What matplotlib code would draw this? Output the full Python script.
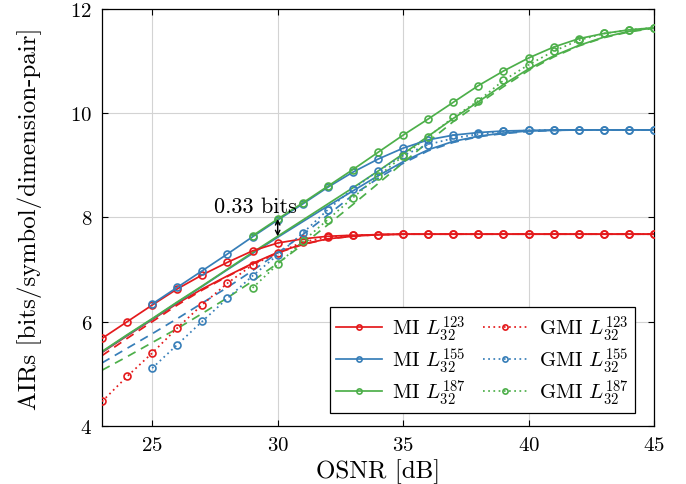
import matplotlib
matplotlib.use("Agg")
import matplotlib.pyplot as plt
import numpy as np

plt.rcParams['font.family'] = ['cmr10', 'DejaVu Serif']
plt.rcParams['mathtext.fontset'] = 'cm'
plt.rcParams['axes.formatter.use_mathtext'] = True

# ---------------- data ----------------
osnr_all = list(range(23, 46))

mi_red_x = list(range(23, 46))
mi_red = [5.68, 6.00, 6.32, 6.63, 6.90, 7.14, 7.36, 7.51, 7.59, 7.64, 7.66, 7.67,
          7.68, 7.68, 7.68, 7.68, 7.68, 7.68, 7.68, 7.68, 7.68, 7.68, 7.68]
gmi_red = [4.47, 4.95, 5.40, 5.88, 6.33, 6.74, 7.09, 7.32, 7.53, 7.62, 7.66, 7.67,
           7.68, 7.68, 7.68, 7.68, 7.68, 7.68, 7.68, 7.68, 7.68, 7.68, 7.68]

mi_blue_x = list(range(25, 46))
mi_blue = [6.34, 6.66, 6.98, 7.30, 7.63, 7.95, 8.26, 8.58, 8.87, 9.12, 9.33, 9.49,
           9.58, 9.63, 9.66, 9.67, 9.68, 9.68, 9.68, 9.68, 9.68]
gmi_blue = [5.11, 5.56, 6.01, 6.45, 6.88, 7.28, 7.70, 8.15, 8.55, 8.89, 9.19, 9.40,
            9.52, 9.60, 9.65, 9.67, 9.68, 9.68, 9.68, 9.68, 9.68]

mi_green_x = list(range(29, 46))
mi_green = [7.65, 7.97, 8.28, 8.60, 8.92, 9.25, 9.58, 9.89, 10.21, 10.53, 10.81,
            11.06, 11.27, 11.43, 11.53, 11.60, 11.64]
gmi_green = [6.65, 7.10, 7.54, 7.96, 8.38, 8.79, 9.18, 9.55, 9.92, 10.24, 10.63,
             10.93, 11.19, 11.40, 11.53, 11.60, 11.64]

# reference curves (no markers): solid = MI, dashed = GMI
ref_mi_red = [5.41, 5.73, 6.04, 6.35, 6.63, 6.88, 7.12, 7.33, 7.49, 7.59, 7.64, 7.67,
              7.68, 7.68, 7.68, 7.68, 7.68, 7.68, 7.68, 7.68, 7.68, 7.68, 7.68]
ref_gmi_red = [5.35, 5.68, 6.00, 6.32, 6.61, 6.87, 7.11, 7.32, 7.48, 7.59, 7.64, 7.67,
               7.68, 7.68, 7.68, 7.68, 7.68, 7.68, 7.68, 7.68, 7.68, 7.68, 7.68]
ref_mi_blue = [5.42, 5.74, 6.05, 6.37, 6.68, 7.00, 7.31, 7.62, 7.92, 8.22, 8.51, 8.80,
               9.07, 9.30, 9.46, 9.56, 9.62, 9.66, 9.67, 9.68, 9.68, 9.68, 9.68]
ref_gmi_blue = [5.21, 5.49, 5.77, 6.06, 6.36, 6.66, 6.98, 7.32, 7.67, 8.05, 8.43, 8.75,
                9.04, 9.28, 9.44, 9.55, 9.61, 9.65, 9.67, 9.68, 9.68, 9.68, 9.68]
ref_mi_green = [5.43, 5.75, 6.06, 6.38, 6.69, 7.01, 7.33, 7.64, 7.95, 8.26, 8.57, 8.89,
                9.22, 9.56, 9.90, 10.22, 10.55, 10.85, 11.10, 11.30, 11.46, 11.57, 11.64]
ref_gmi_green = [5.07, 5.33, 5.60, 5.87, 6.16, 6.46, 6.78, 7.12, 7.48, 7.86, 8.25, 8.65,
                 9.05, 9.45, 9.84, 10.18, 10.51, 10.82, 11.08, 11.29, 11.45, 11.56, 11.63]

labels_mi = [r"MI $L_{32}^{123}$", r"MI $L_{32}^{155}$", r"MI $L_{32}^{187}$"]
labels_gmi = [r"GMI $L_{32}^{123}$", r"GMI $L_{32}^{155}$", r"GMI $L_{32}^{187}$"]

RED, BLUE, GREEN = "#e41a1c", "#377eb8", "#4daf4a"

# ---------------- figure ----------------
fig = plt.figure(figsize=(6.86, 4.85), dpi=100)
ax = fig.add_axes([0.1487, 0.1196, 0.8047, 0.8598])

lw = 1.25
ms = 5.0
mk = dict(marker='o', markersize=ms, markerfacecolor='none', markeredgewidth=1.2)

# reference curves
for y, c in [(ref_mi_red, RED), (ref_mi_blue, BLUE), (ref_mi_green, GREEN)]:
    ax.plot(osnr_all, y, color=c, lw=lw, zorder=2)
for y, c in [(ref_gmi_red, RED), (ref_gmi_blue, BLUE), (ref_gmi_green, GREEN)]:
    ax.plot(osnr_all, y, color=c, lw=lw, ls=(0, (5, 3.5)), zorder=2)

h1, = ax.plot(mi_red_x, mi_red, color=RED, lw=lw, label=labels_mi[0], zorder=3, **mk)
h2, = ax.plot(mi_blue_x, mi_blue, color=BLUE, lw=lw, label=labels_mi[1], zorder=3, **mk)
h3, = ax.plot(mi_green_x, mi_green, color=GREEN, lw=lw, label=labels_mi[2], zorder=3, **mk)
g1, = ax.plot(mi_red_x, gmi_red, color=RED, lw=lw, ls=(0, (1, 2)), label=labels_gmi[0], zorder=3, **mk)
g2, = ax.plot(mi_blue_x, gmi_blue, color=BLUE, lw=lw, ls=(0, (1, 2)), label=labels_gmi[1], zorder=3, **mk)
g3, = ax.plot(mi_green_x, gmi_green, color=GREEN, lw=lw, ls=(0, (1, 2)), label=labels_gmi[2], zorder=3, **mk)

# annotation
ax.annotate("", xy=(30, 7.64), xytext=(30, 7.97),
            arrowprops=dict(arrowstyle="<->", color="black", lw=1.0,
                            shrinkA=0, shrinkB=0, mutation_scale=8), zorder=5)
ax.text(29.1, 8.1, "0.33 bits", ha='center', va='baseline', fontsize=16, zorder=5)

ax.set_xlim(23, 45)
ax.set_ylim(4, 12)
ax.set_xticks([25, 30, 35, 40, 45])
ax.set_yticks([4, 6, 8, 10, 12])
ax.grid(True, color="#d3d3d3", lw=0.8)
ax.set_axisbelow(True)
ax.tick_params(direction='in', top=True, right=True, length=4, width=0.8,
               labelsize=15, pad=7)
for s in ax.spines.values():
    s.set_linewidth(0.9)

ax.set_xlabel("OSNR [dB]", fontsize=18, labelpad=3)
ax.set_ylabel("AIRs [bits/symbol/dimension-pair]", fontsize=18, labelpad=20)

leg = ax.legend(handles=[h1, h2, h3, g1, g2, g3], ncol=2, loc='lower right',
                fontsize=15, frameon=True, fancybox=False, edgecolor='black',
                framealpha=1, borderpad=0.3, handlelength=2.2, handletextpad=0.5,
                columnspacing=0.8, labelspacing=0.12, markerscale=0.75,
                borderaxespad=0, bbox_to_anchor=(0.9656, 0.0312))
leg.get_frame().set_linewidth(0.9)

fig.savefig("out.png", dpi=100)
